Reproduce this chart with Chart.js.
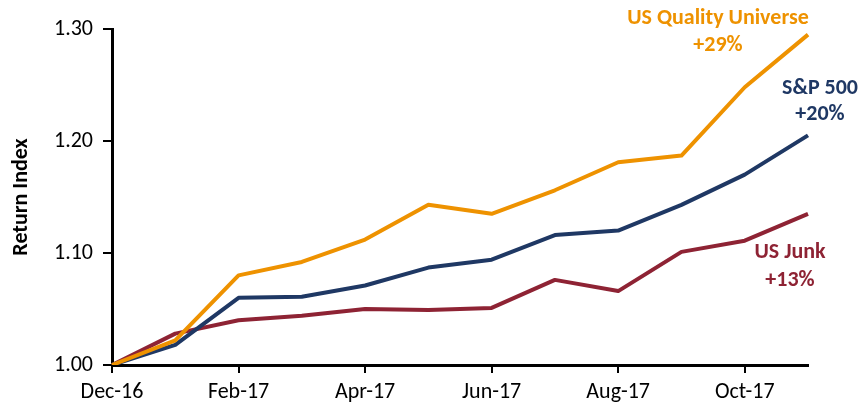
<!DOCTYPE html>
<html>
<head>
<meta charset="utf-8">
<script src="https://cdn.jsdelivr.net/npm/chart.js@4"></script>
<style>
  html, body { margin: 0; padding: 0; background: #fff; }
  #wrap { width: 862px; height: 405px; }
</style>
</head>
<body>
<div id="wrap"><canvas id="lineChart" width="862" height="405"></canvas></div>
<script>
var months = ['Dec-16', 'Jan-17', 'Feb-17', 'Mar-17', 'Apr-17', 'May-17', 'Jun-17', 'Jul-17', 'Aug-17', 'Sep-17', 'Oct-17', 'Nov-17'];
var qualityData = [1.000, 1.022, 1.080, 1.092, 1.112, 1.143, 1.135, 1.156, 1.181, 1.187, 1.248, 1.295];
var spData = [1.000, 1.018, 1.060, 1.061, 1.071, 1.087, 1.094, 1.116, 1.120, 1.143, 1.170, 1.205];
var junkData = [1.000, 1.028, 1.040, 1.044, 1.050, 1.049, 1.051, 1.076, 1.066, 1.101, 1.111, 1.135];
var yTicks = [1.00, 1.10, 1.20, 1.30];

var seriesLabels = [
  { text: ['US Quality Universe', '+29%'], color: '#EE9200', dx: -90, dy: [-16, 11] },
  { text: ['S&P 500', '+20%'], color: '#1F3864', dx: 12, dy: [-47, -21] },
  { text: ['US Junk', '+13%'], color: '#8E2334', dx: -18, dy: [39, 67] }
];

var fontFamily = 'Carlito, Calibri, Lato, sans-serif';

// end-of-line labels, anchored to the last point of each series
var endLabels = {
  id: 'endLabels',
  afterDatasetsDraw: function (chart) {
    var ctx = chart.ctx;
    ctx.save();
    ctx.font = 'bold 22px ' + fontFamily;
    ctx.textAlign = 'center';
    ctx.textBaseline = 'middle';
    seriesLabels.forEach(function (lab, i) {
      var meta = chart.getDatasetMeta(i);
      var last = meta.data[meta.data.length - 1];
      ctx.fillStyle = lab.color;
      lab.text.forEach(function (line, j) {
        ctx.fillText(line, last.x + lab.dx, last.y + lab.dy[j]);
      });
    });
    ctx.restore();
  }
};

var lineCtx = document.getElementById('lineChart').getContext('2d');
var lineChart = new Chart(lineCtx, {
  type: 'line',
  data: {
    labels: months,
    datasets: [
      { label: 'US Quality Universe', data: qualityData, borderColor: '#EE9200' },
      { label: 'S&P 500', data: spData, borderColor: '#1F3864' },
      { label: 'US Junk', data: junkData, borderColor: '#8E2334' }
    ]
  },
  options: {
    responsive: false,
    animation: false,
    layout: { padding: { top: 29, right: 54, left: 0, bottom: 0 } },
    elements: {
      line: { borderWidth: 4, tension: 0, fill: false, borderJoinStyle: 'round' },
      point: { radius: 0 }
    },
    plugins: {
      legend: { display: false },
      tooltip: { enabled: false }
    },
    scales: {
      x: {
        offset: false,
        border: { display: true, color: '#000', width: 3 },
        grid: {
          drawOnChartArea: false,
          drawTicks: true,
          tickLength: 8,
          lineWidth: 2,
          color: function (c) { return c.index % 2 === 0 ? '#000' : 'rgba(0,0,0,0)'; }
        },
        ticks: {
          autoSkip: false,
          maxRotation: 0,
          padding: 6,
          color: '#000',
          font: { family: fontFamily, size: 22 },
          callback: function (v, i) { return i % 2 === 0 ? months[i] : ''; }
        },
        afterFit: function (s) { s.height = 40; }
      },
      y: {
        min: 1.0,
        max: 1.3,
        border: { display: true, color: '#000', width: 3 },
        grid: { drawOnChartArea: false, drawTicks: true, tickLength: 9, lineWidth: 2, color: '#000' },
        afterBuildTicks: function (s) {
          s.ticks = yTicks.map(function (v) { return { value: v }; });
        },
        ticks: {
          color: '#000',
          padding: 10,
          font: { family: fontFamily, size: 22 },
          callback: function (v) { return v.toFixed(2); }
        },
        title: {
          display: true,
          text: 'Return Index',
          color: '#000',
          font: { family: fontFamily, size: 22, weight: 'bold' },
          padding: { top: 8, bottom: 10 }
        },
        afterFit: function (s) { s.width = 112; }
      }
    }
  },
  plugins: [endLabels]
});
</script>
</body>
</html>
